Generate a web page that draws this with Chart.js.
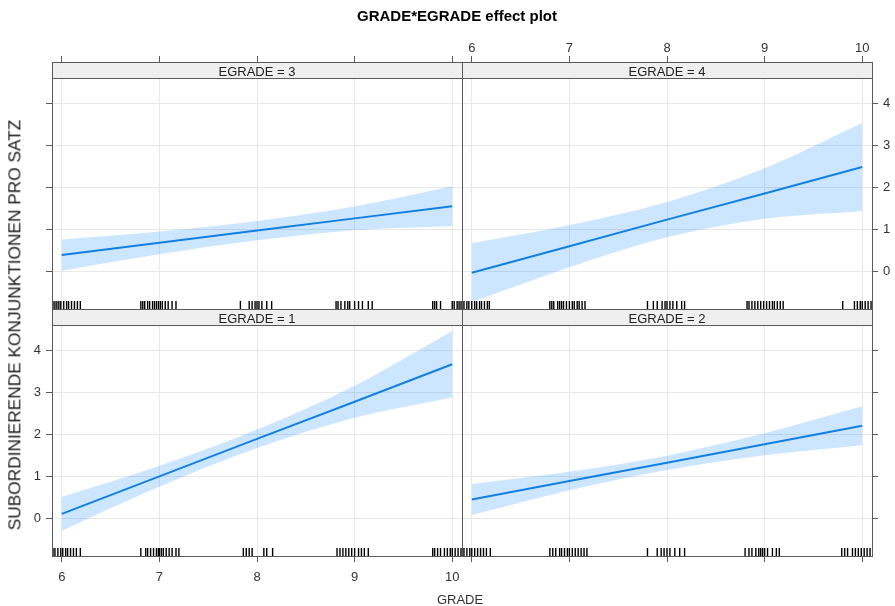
<!DOCTYPE html>
<html>
<head>
<meta charset="utf-8">
<script src="https://cdn.jsdelivr.net/npm/chart.js@4/dist/chart.umd.min.js"></script>
<style>
html,body{margin:0;padding:0;background:#fff;}
#wrap{position:relative;width:895px;height:606px;overflow:hidden;font-family:"Liberation Sans",Arial,sans-serif;}
#wrap canvas{position:absolute;left:0;top:0;}
.t{position:absolute;white-space:nowrap;transform:translate(-50%,-50%);line-height:1;}
#title{left:457px;top:15px;font-size:15px;font-weight:bold;color:#000;}
#ylab{left:15px;top:325px;font-size:17.3px;color:#1a1a1a;transform:translate(-50%,-50%) rotate(-90deg);}
#xlab{left:460px;top:599px;font-size:13px;color:#333;}
.strip{font-size:13px;color:#222;}
</style>
</head>
<body>
<div id="wrap">
  <canvas id="cTL" width="895" height="606"></canvas>
  <canvas id="cBL" width="895" height="606"></canvas>
  <canvas id="cTR" width="895" height="606"></canvas>
  <canvas id="cBR" width="895" height="606"></canvas>
  <div class="t" id="title">GRADE*EGRADE effect plot</div>
  <div class="t" id="ylab">SUBORDINIERENDE KONJUNKTIONEN PRO SATZ</div>
  <div class="t" id="xlab">GRADE</div>
</div>
<script>
// ---------------- data ----------------
const GRADE_TICKS = [6, 7, 8, 9, 10];
const Y_TICKS = [0, 1, 2, 3, 4];
const GRADE = [6, 7, 8, 9, 10];

// EGRADE = 3
const FIT_E3   = [0.40, 0.69, 0.98, 1.27, 1.56];
const LOWER_E3 = [0.03, 0.42, 0.75, 0.99, 1.09];
const UPPER_E3 = [0.77, 0.96, 1.21, 1.55, 2.03];
const RUG_E3 = [5.91,5.93,5.95,5.97,5.99,6.02,6.05,6.07,6.10,6.13,6.16,6.19,
  6.81,6.83,6.85,6.88,6.90,6.93,6.95,6.97,6.99,7.01,7.03,7.06,7.09,7.13,7.17,
  7.83,7.92,7.95,7.98,8.00,8.02,8.05,8.10,8.15,
  8.81,8.83,8.86,8.90,8.93,8.95,9.00,9.04,9.08,9.14,9.18,
  9.80,9.82,9.84,9.88,10.00,10.02,10.05,10.07,10.09];

// EGRADE = 4
const FIT_E4   = [-0.02, 0.61, 1.24, 1.86, 2.49];
const LOWER_E4 = [-0.72, 0.11, 0.82, 1.26, 1.44];
const UPPER_E4 = [0.68, 1.11, 1.66, 2.46, 3.53];
const RUG_E4 = [5.90,5.92,5.95,5.97,6.00,6.03,6.05,6.08,6.10,6.13,6.16,6.18,
  6.80,6.82,6.84,6.88,6.90,6.92,6.94,6.97,7.00,7.03,7.05,7.08,7.10,7.13,7.16,
  7.80,7.86,7.90,7.95,7.98,8.00,8.03,8.06,8.10,8.15,8.18,
  8.82,8.84,8.87,8.90,8.93,8.96,8.99,9.02,9.05,9.08,9.10,9.13,9.16,9.19,
  9.80,9.92,9.95,9.98,10.00,10.03,10.06,10.09];

// EGRADE = 1
const FIT_E1   = [0.12, 1.01, 1.90, 2.78, 3.67];
const LOWER_E1 = [-0.28, 0.76, 1.68, 2.40, 2.88];
const UPPER_E1 = [0.52, 1.26, 2.12, 3.16, 4.46];
const RUG_E1 = [5.91,5.93,5.96,5.99,6.01,6.04,6.06,6.09,6.12,6.15,6.19,
  6.81,6.86,6.88,6.91,6.94,6.97,6.99,7.00,7.02,7.04,7.07,7.10,7.13,7.17,7.20,
  7.86,7.89,7.92,7.95,8.07,8.10,8.16,
  8.82,8.85,8.88,8.91,8.94,8.97,9.00,9.04,9.07,9.10,9.14,
  9.80,9.82,9.85,9.88,9.92,9.95,9.98,10.00,10.03,10.06,10.09];

// EGRADE = 2
const FIT_E2   = [0.46, 0.90, 1.33, 1.77, 2.21];
const LOWER_E2 = [0.09, 0.68, 1.16, 1.51, 1.75];
const UPPER_E2 = [0.83, 1.12, 1.50, 2.03, 2.67];
const RUG_E2 = [5.90,5.92,5.95,5.98,6.00,6.03,6.06,6.09,6.12,6.15,6.19,
  6.80,6.83,6.86,6.90,6.92,6.95,6.98,7.00,7.03,7.06,7.09,7.12,7.15,7.18,
  7.80,7.90,7.94,7.97,8.00,8.03,8.08,8.13,8.18,
  8.80,8.84,8.87,8.91,8.94,8.96,8.98,9.00,9.03,9.08,9.12,9.15,
  9.79,9.82,9.85,9.90,9.93,9.96,9.99,10.02,10.05,10.08];

const PANEL_LABELS = ['EGRADE = 3', 'EGRADE = 4', 'EGRADE = 1', 'EGRADE = 2'];

// ---------------- styling / layout ----------------
const X_MIN = 5.9, X_MAX = 10.1;
const Y_MIN = -0.88, Y_MAX = 4.6;
const RUG_Y = Y_MIN + 0.095;
const LINE = '#1380e0';
const BAND = 'rgba(0,128,255,0.2)';
const GRID = '#e8e8e8';
const FRAME = '#5a5a5a';
const TXT = '#333';
const STRIP_H = 16;
const AX_X = 44, AX_Y = 23;

Chart.defaults.font.family = "'Liberation Sans', Arial, sans-serif";

const stripPlugin = {
  id: 'strip',
  afterDraw(chart) {
    const ca = chart.chartArea, c = chart.ctx;
    const l = Math.round(ca.left), r = Math.round(ca.right);
    const t = Math.round(ca.top), b = Math.round(ca.bottom);
    c.save();
    c.fillStyle = '#efefef';
    c.fillRect(l, t - STRIP_H, r - l, STRIP_H);
    c.strokeStyle = FRAME;
    c.lineWidth = 1;
    c.strokeRect(l + 0.5, t - STRIP_H + 0.5, r - l, b - t + STRIP_H);
    c.beginPath();
    c.moveTo(l, t + 0.5); c.lineTo(r + 1, t + 0.5);
    c.stroke();
    c.restore();
  }
};

function makePanel(id, d, lay) {
  const padding = {
    left: lay.l - (lay.yPos === 'left' ? AX_Y : 0),
    right: 895 - lay.r - (lay.yPos === 'right' ? AX_Y : 0),
    top: lay.t - (lay.xPos === 'top' ? AX_X : 0),
    bottom: 606 - lay.b - (lay.xPos === 'bottom' ? AX_X : 0)
  };
  const chart = new Chart(document.getElementById(id), {
    type: 'line',
    data: {
      datasets: [
        { data: GRADE.map((x, i) => ({ x, y: d.fit[i] })), borderColor: LINE, borderWidth: 2,
          pointRadius: 0, tension: 0, fill: false },
        { data: d.rug.map(x => ({ x, y: RUG_Y })), showLine: false, pointStyle: 'line',
          pointRotation: 90, pointRadius: 4, pointBorderColor: '#000', pointBackgroundColor: '#000',
          pointBorderWidth: 1.4, borderColor: 'rgba(0,0,0,0)' },
        { data: GRADE.map((x, i) => ({ x, y: d.upper[i] })), borderColor: 'rgba(0,0,0,0)', borderWidth: 0,
          pointRadius: 0, fill: '+1', backgroundColor: BAND, cubicInterpolationMode: 'monotone' },
        { data: GRADE.map((x, i) => ({ x, y: d.lower[i] })), borderColor: 'rgba(0,0,0,0)', borderWidth: 0,
          pointRadius: 0, fill: false, cubicInterpolationMode: 'monotone' }
      ]
    },
    options: {
      responsive: false, animation: false, devicePixelRatio: 1, events: [],
      layout: { padding },
      plugins: { legend: { display: false }, tooltip: { enabled: false }, title: { display: false } },
      scales: {
        x: {
          type: 'linear', position: lay.xPos, min: X_MIN, max: X_MAX,
          afterBuildTicks: s => { s.ticks = GRADE_TICKS.map(v => ({ value: v })); },
          afterFit: s => { s.height = AX_X; },
          border: { display: false },
          grid: { color: GRID, tickColor: FRAME, lineWidth: 1, drawTicks: true,
                  tickLength: lay.xPos === 'top' ? 22 : 6 },
          ticks: { display: lay.xLabels, color: TXT, font: { size: 13 }, padding: lay.xPos === 'top' ? 0 : 8,
                   maxRotation: 0, autoSkip: false }
        },
        y: {
          type: 'linear', position: lay.yPos, min: Y_MIN, max: Y_MAX,
          afterBuildTicks: s => { s.ticks = Y_TICKS.map(v => ({ value: v })); },
          afterFit: s => { s.width = AX_Y; },
          border: { display: false },
          grid: { color: GRID, tickColor: FRAME, lineWidth: 1, drawTicks: true, tickLength: 6 },
          ticks: { display: lay.yLabels, color: TXT, font: { size: 13 }, padding: 5, autoSkip: false }
        }
      }
    },
    plugins: [stripPlugin]
  });
  const ca = chart.chartArea;
  const div = document.createElement('div');
  div.className = 't strip';
  div.textContent = d.label;
  div.style.left = ((ca.left + ca.right) / 2) + 'px';
  div.style.top = (ca.top - STRIP_H / 2 + 0.5) + 'px';
  document.getElementById('wrap').appendChild(div);
  return chart;
}

makePanel('cTL', { fit: FIT_E3, lower: LOWER_E3, upper: UPPER_E3, rug: RUG_E3, label: PANEL_LABELS[0] },
  { l: 52, t: 78, r: 462, b: 309, xPos: 'top', yPos: 'left', xLabels: false, yLabels: false });
makePanel('cTR', { fit: FIT_E4, lower: LOWER_E4, upper: UPPER_E4, rug: RUG_E4, label: PANEL_LABELS[1] },
  { l: 462, t: 78, r: 872, b: 309, xPos: 'top', yPos: 'right', xLabels: true, yLabels: true });
makePanel('cBL', { fit: FIT_E1, lower: LOWER_E1, upper: UPPER_E1, rug: RUG_E1, label: PANEL_LABELS[2] },
  { l: 52, t: 325, r: 462, b: 556, xPos: 'bottom', yPos: 'left', xLabels: true, yLabels: true });
makePanel('cBR', { fit: FIT_E2, lower: LOWER_E2, upper: UPPER_E2, rug: RUG_E2, label: PANEL_LABELS[3] },
  { l: 462, t: 325, r: 872, b: 556, xPos: 'bottom', yPos: 'right', xLabels: false, yLabels: false });
</script>
</body>
</html>
